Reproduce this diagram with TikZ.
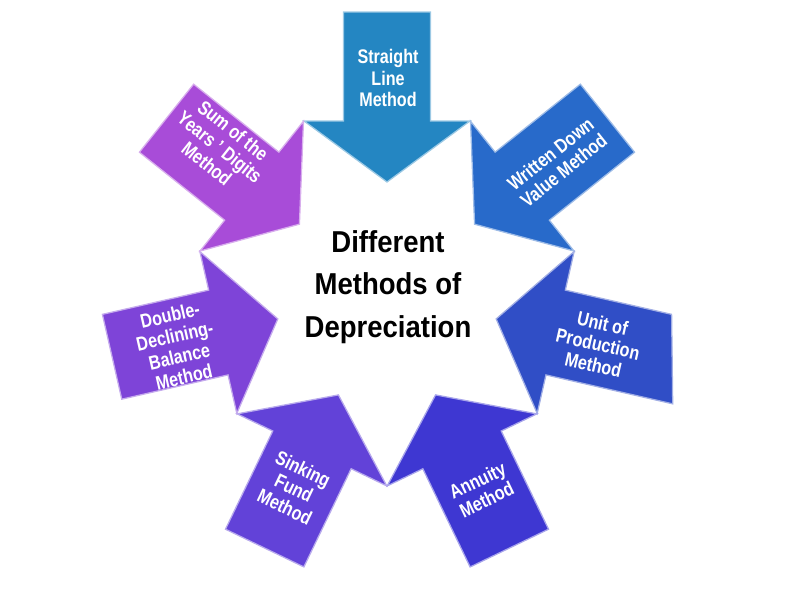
\documentclass[tikz,border=0pt]{standalone}
\usepackage{fontspec}
\setmainfont{Liberation Sans}
\newfontfamily\arrowfont[FakeStretch=0.82]{Liberation Sans}
\newfontfamily\titlefont[FakeStretch=0.91]{Liberation Sans}
\definecolor{straightcol}{RGB}{36,134,194}
\definecolor{writtencol}{RGB}{40,106,202}
\definecolor{unitcol}{RGB}{48,78,198}
\definecolor{annuitycol}{RGB}{62,55,210}
\definecolor{sinkingcol}{RGB}{98,66,216}
\definecolor{doublecol}{RGB}{126,68,216}
\definecolor{sumcol}{RGB}{168,76,216}
\begin{document}
\begin{tikzpicture}[x=0.025cm,y=0.025cm,
  methodarrow/.style={line width=0.9pt, line join=miter},
  methodtext/.style={text=white, font=\arrowfont\bfseries\fontsize{14}{15}\selectfont, align=center, inner sep=0pt}]
\useasboundingbox (-387,-301) rectangle (407,294);

\filldraw[methodarrow, fill=straightcol, draw=straightcol!45!white, rotate=90] (112,0) -- (173,83) -- (173,43.5) -- (282,43.5) -- (282,-43.5) -- (173,-43.5) -- (173,-83) -- cycle;
\filldraw[methodarrow, fill=writtencol, draw=writtencol!45!white, rotate=38.57] (112,0) -- (173,83) -- (173,43.5) -- (282,43.5) -- (282,-43.5) -- (173,-43.5) -- (173,-83) -- cycle;
\filldraw[methodarrow, fill=unitcol, draw=unitcol!45!white, rotate=-12.86] (112,0) -- (173,83) -- (173,43.5) -- (282,43.5) -- (303,-43.5) -- (173,-43.5) -- (173,-83) -- cycle;
\filldraw[methodarrow, fill=annuitycol, draw=annuitycol!45!white, rotate=-64.29] (112,0) -- (173,83) -- (173,43.5) -- (282,43.5) -- (282,-43.5) -- (173,-43.5) -- (173,-83) -- cycle;
\filldraw[methodarrow, fill=sinkingcol, draw=sinkingcol!45!white, rotate=-115.71] (112,0) -- (173,83) -- (173,43.5) -- (282,43.5) -- (282,-43.5) -- (173,-43.5) -- (173,-83) -- cycle;
\filldraw[methodarrow, fill=doublecol, draw=doublecol!45!white, rotate=-167.14] (112,0) -- (173,83) -- (173,43.5) -- (282,43.5) -- (282,-43.5) -- (173,-43.5) -- (173,-83) -- cycle;
\filldraw[methodarrow, fill=sumcol, draw=sumcol!45!white, rotate=141.43] (112,0) -- (173,83) -- (173,43.5) -- (282,43.5) -- (282,-43.5) -- (173,-43.5) -- (173,-83) -- cycle;

\node[methodtext] (straight) at (1,216) {Straight\\Line\\Method};
\node[methodtext, rotate=38.57] (written) at (170,132) {Written Down\\Value Method};
\node[methodtext, rotate=-12.86] (unit) at (211,-50) {Unit of\\Production\\Method};
\node[methodtext, rotate=25.71] (annuity) at (95,-196) {Annuity\\Method};
\node[methodtext, rotate=-25.71] (sinking) at (-93,-194) {Sinking\\Fund\\Method};
\node[methodtext, rotate=12.86] (double) at (-210,-52) {Double-\\Declining-\\Balance\\Method};
\node[methodtext, rotate=-38.57] (sum) at (-167,147) {Sum of the\\Years ’ Digits\\Method};

\node[font=\titlefont\bfseries\fontsize{21.5}{30}\selectfont, align=center, inner sep=0pt] (title) at (1,7) {Different\\Methods of\\Depreciation};
\end{tikzpicture}
\end{document}
